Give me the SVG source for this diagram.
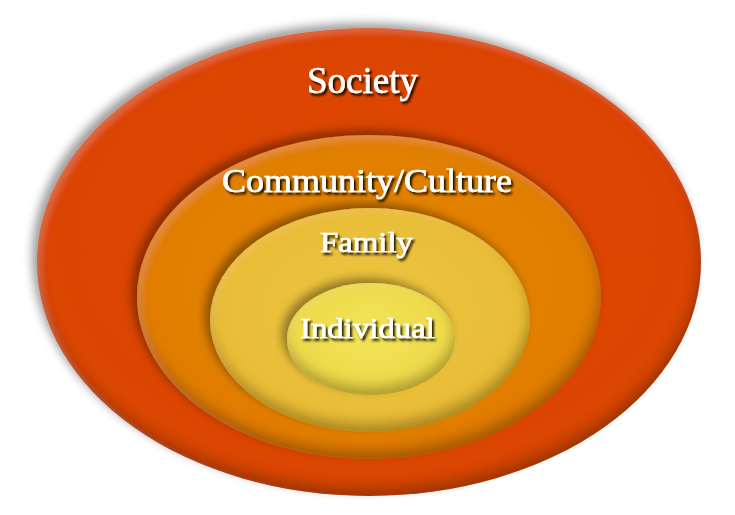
<svg xmlns="http://www.w3.org/2000/svg" width="735" height="515" viewBox="0 0 735 515">
<defs>
  <filter id="bevel" x="-10%" y="-12%" width="120%" height="124%">
    <feGaussianBlur in="SourceAlpha" stdDeviation="5" result="b"/>
    <feOffset in="b" dx="-5" dy="-5" result="ob"/>
    <feFlood flood-color="#000" flood-opacity="0.38"/>
    <feComposite in2="ob" operator="in" result="oshadow"/>
    <feGaussianBlur in="SourceAlpha" stdDeviation="6" result="b2"/>
    <feOffset in="b2" dx="-2" dy="-9" result="up"/>
    <feComposite in="SourceAlpha" in2="up" operator="out" result="botEdge"/>
    <feFlood flood-color="#3a1a00" flood-opacity="0.5"/>
    <feComposite in2="botEdge" operator="in" result="darkEdge"/>
    <feGaussianBlur in="SourceAlpha" stdDeviation="3" result="b3"/>
    <feOffset in="b3" dx="4" dy="4" result="down"/>
    <feComposite in="SourceAlpha" in2="down" operator="out" result="topEdge"/>
    <feFlood flood-color="#ffd9a0" flood-opacity="0.14"/>
    <feComposite in2="topEdge" operator="in" result="lightEdge"/>
    <feMerge>
      <feMergeNode in="oshadow"/>
      <feMergeNode in="SourceGraphic"/>
      <feMergeNode in="darkEdge"/>
      <feMergeNode in="lightEdge"/>
    </feMerge>
  </filter>
  <filter id="txt" x="-10%" y="-30%" width="120%" height="160%">
    <feDropShadow dx="2" dy="2.5" stdDeviation="1.3" flood-color="#000" flood-opacity="0.9"/>
  </filter>
  <radialGradient id="gSoc" cx="50%" cy="45%" r="55%">
    <stop offset="0" stop-color="#DC4600"/>
    <stop offset="0.85" stop-color="#DB4500"/>
    <stop offset="1" stop-color="#D84810"/>
  </radialGradient>
  <radialGradient id="gCom" cx="50%" cy="45%" r="55%">
    <stop offset="0" stop-color="#E3860A"/>
    <stop offset="1" stop-color="#E07C00"/>
  </radialGradient>
  <radialGradient id="gFam" cx="50%" cy="45%" r="55%">
    <stop offset="0" stop-color="#EDC640"/>
    <stop offset="1" stop-color="#E8BB36"/>
  </radialGradient>
  <radialGradient id="gInd" cx="50%" cy="45%" r="55%">
    <stop offset="0" stop-color="#F2E458"/>
    <stop offset="1" stop-color="#EDD848"/>
  </radialGradient>
</defs>
<style>
  .ring { filter: url(#bevel); }
  .lbl { font-family: "Liberation Serif", "Times New Roman", serif; fill: #fff; stroke: #fff; stroke-width: 0.6; text-anchor: middle; filter: url(#txt); }
</style>
<rect width="735" height="515" fill="#fff"/>
<g id="connectors"></g>
<g id="society">
  <ellipse class="ring" cx="369" cy="262" rx="332" ry="234" fill="url(#gSoc)"/>
  <text class="lbl" x="362.5" y="93" font-size="37" textLength="111" lengthAdjust="spacingAndGlyphs">Society</text>
</g>
<g id="community">
  <ellipse class="ring" cx="369" cy="297" rx="232" ry="162" fill="url(#gCom)"/>
  <text class="lbl" x="367" y="192" font-size="33" textLength="290" lengthAdjust="spacingAndGlyphs">Community/Culture</text>
</g>
<g id="family">
  <ellipse class="ring" cx="370" cy="320" rx="160" ry="112" fill="url(#gFam)"/>
  <text class="lbl" x="366.5" y="252" font-size="30" textLength="93" lengthAdjust="spacingAndGlyphs">Family</text>
</g>
<g id="individual">
  <ellipse class="ring" cx="371" cy="339" rx="84" ry="56" fill="url(#gInd)"/>
  <text class="lbl" x="367.5" y="338" font-size="30" textLength="135" lengthAdjust="spacingAndGlyphs">Individual</text>
</g>
</svg>
